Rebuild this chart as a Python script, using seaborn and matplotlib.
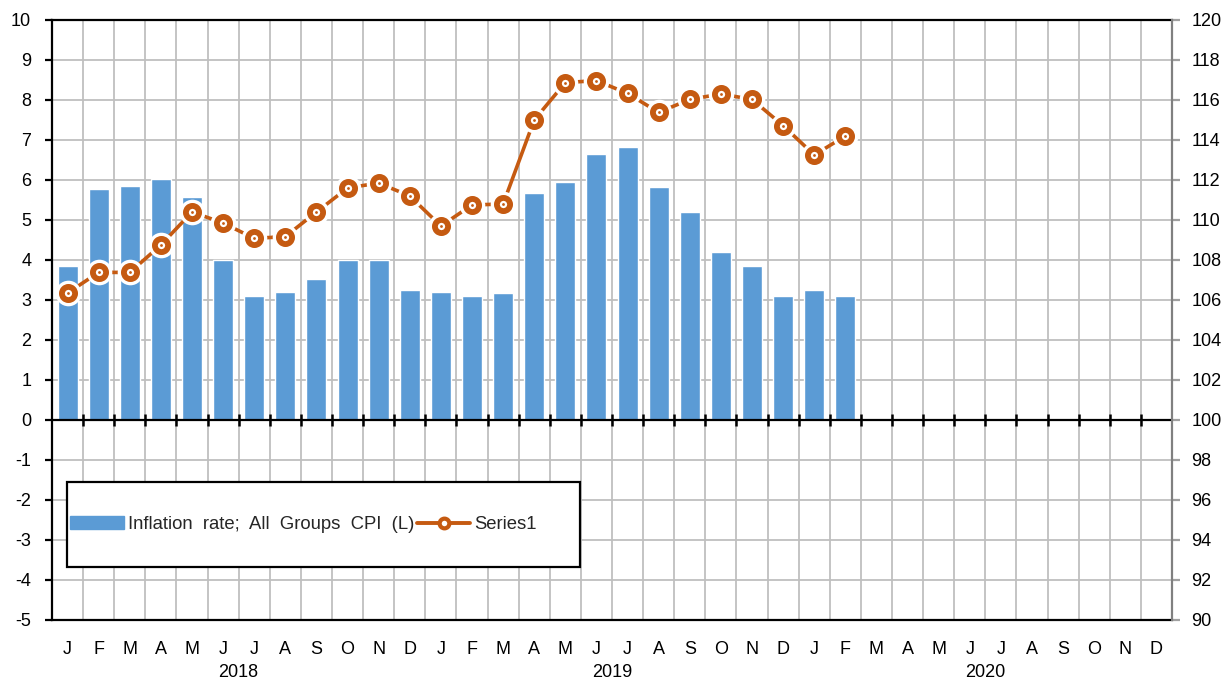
import matplotlib
matplotlib.use("agg")
import matplotlib.pyplot as plt
import seaborn as sns
import pandas as pd
import numpy as np
from matplotlib.patches import Rectangle, Patch
from matplotlib.lines import Line2D

# months Jan 2018 .. Dec 2020
years = ["2018", "2019", "2020"]
month_letters = ["J", "F", "M", "A", "M", "J", "J", "A", "S", "O", "N", "D"]

# inflation rate, left axis (Jan 2018 .. Feb 2020)
inflation = [3.86, 5.78, 5.85, 6.02, 5.57, 4.0, 3.11, 3.19, 3.52, 4.0, 4.0, 3.25,
             3.19, 3.11, 3.18, 5.68, 5.96, 6.64, 6.83, 5.83, 5.21, 4.2, 3.85, 3.11,
             3.25, 3.11]

# Series1, right axis
series1 = [106.35, 107.38, 107.38, 108.75, 110.4, 109.85, 109.08, 109.17, 110.4, 111.6, 111.85, 111.2,
           109.7, 110.75, 110.8, 115.0, 116.87, 116.97, 116.33, 115.38, 116.03, 116.3, 116.03, 114.72,
           113.25, 114.2]

bar_color = "#5B9BD5"
line_color = "#C55A11"
grid_color = "#BFBFBF"

sns.set_theme(style="white")
plt.rcParams["font.family"] = ["Liberation Sans", "DejaVu Sans"]
plt.rcParams["axes.unicode_minus"] = False

months = [y + "-" + str(m + 1).zfill(2) for y in years for m in range(12)]
df = pd.DataFrame({"month": months[:len(inflation)], "rate": inflation})

fig = plt.figure(figsize=(12.28, 6.81), dpi=100)
ax = fig.add_axes([52 / 1228, 61 / 681, 1120 / 1228, 600 / 681])

sns.barplot(data=df, x="month", y="rate", order=months, color=bar_color,
            saturation=1, width=0.64, errorbar=None, ax=ax, zorder=2)

n = len(months)
ax.set_xlim(-0.5, n - 0.5)
ax.set_ylim(-5, 10)
ax.set_yticks(range(-5, 11))
ax.set_xticks(range(n))
ax.set_xticklabels(month_letters * 3)
ax.set_xlabel("")
ax.set_ylabel("")

# grid
for y in range(-4, 10):
    ax.axhline(y, color=grid_color, lw=1.3, zorder=0)
for b in np.arange(n + 1) - 0.5:
    ax.axvline(b, color=grid_color, lw=1.3, zorder=0)

# zero line with tick marks
ax.axhline(0, color="black", lw=1.6, zorder=3)
ax.plot(np.arange(1, n) - 0.5, np.zeros(n - 1), ls="none", marker="|", ms=9,
        mew=1.8, color="black", zorder=3)

for s in ["left", "bottom", "top"]:
    ax.spines[s].set_color("black")
    ax.spines[s].set_linewidth(1.6)
ax.spines["right"].set_visible(False)

ax.tick_params(axis="y", direction="out", length=5, width=1.6, color="black",
               pad=10, labelsize=13, labelcolor="black")
ax.tick_params(axis="x", length=0, pad=15, labelsize=13, labelcolor="black")

for i, yr in enumerate(years):
    ax.text(i * 12 + 5.5, -0.087, yr, transform=ax.get_xaxis_transform(),
            ha="center", va="center", fontsize=13, color="black")

# right axis
ax2 = ax.twinx()
ax2.set_ylim(90, 120)
ax2.set_yticks(range(90, 121, 2))
for s in ["left", "bottom", "top"]:
    ax2.spines[s].set_visible(False)
ax2.spines["right"].set_color("#808080")
ax2.spines["right"].set_linewidth(1.6)
ax2.tick_params(axis="y", direction="out", length=6, width=1.6, color="#A0A0A0",
                pad=8, labelsize=13, labelcolor="black")

xpos = np.arange(len(series1))
sns.lineplot(x=xpos, y=series1, ax=ax2, color=line_color, lw=2.6, zorder=4)
sns.scatterplot(x=xpos, y=series1, ax=ax2, color="white", s=340, linewidth=0,
                zorder=5)
ax2.scatter(xpos, series1, facecolor="white", edgecolor=line_color,
            s=90, linewidths=4.2, zorder=6)
sns.scatterplot(x=xpos, y=series1, ax=ax2, color=line_color, s=4, linewidth=0,
                zorder=7)

# legend
ax2.add_patch(Rectangle((0.0134, 0.088), 0.458, 0.142, transform=ax2.transAxes,
                        facecolor="white", edgecolor="black", lw=1.6, zorder=8))
handles = [Patch(facecolor=bar_color, edgecolor=bar_color),
           Line2D([], [], color=line_color, lw=2.8, marker="o", ms=7,
                  mfc="white", mec=line_color, mew=3)]
labels = ["Inflation  rate;  All  Groups  CPI  (L)", "Series1"]
leg = ax2.legend(handles, labels, loc="center left", bbox_to_anchor=(0.0165, 0.159),
                 ncol=2, frameon=False, fontsize=13.3, handlelength=2.9,
                 handletextpad=0.2, columnspacing=0.15, borderaxespad=0,
                 borderpad=0)
leg.set_zorder(9)

fig.savefig("out.png", dpi=100)
